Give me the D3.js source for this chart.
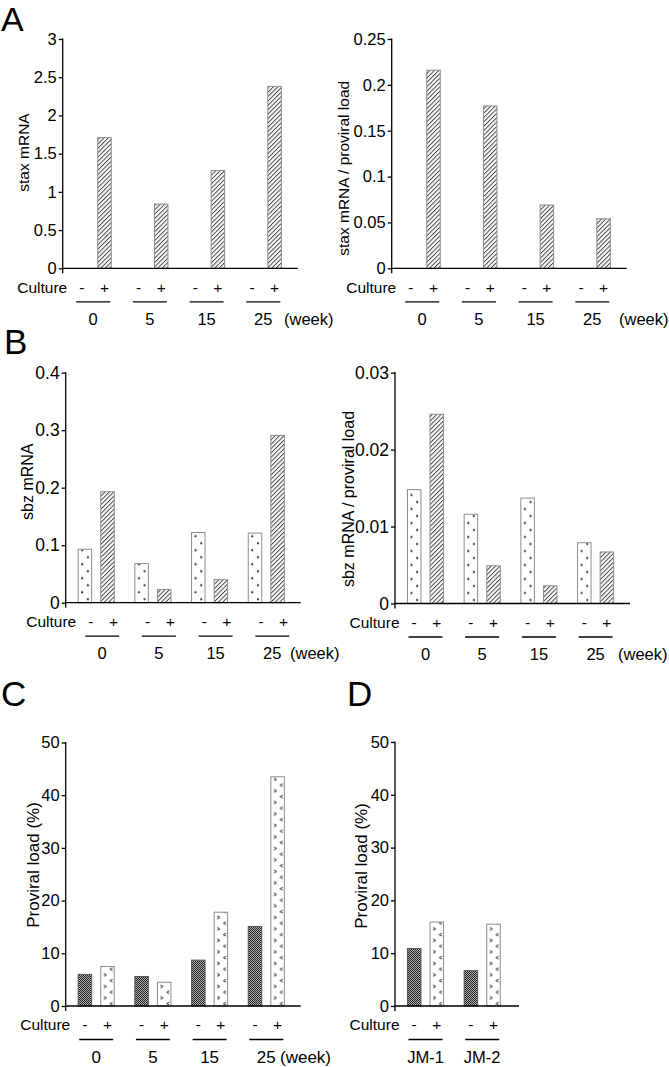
<!DOCTYPE html>
<html><head><meta charset="utf-8">
<script src="https://cdn.jsdelivr.net/npm/d3@7"></script>
<style>
body{margin:0;background:#fff}
svg{display:block}
text{font-family:"Liberation Sans",Arial,Helvetica,sans-serif;fill:#000}
</style>
</head><body>
<svg id="c" width="669" height="1067"></svg>
<script>
// ---------- data ----------
const weeks = ["0", "5", "15", "25"];
const culture = ["-", "+"];
const cellLines = ["JM-1", "JM-2"];
const staxPlus = [1.71, 0.84, 1.28, 2.38];
const staxRatioPlus = [0.216, 0.177, 0.069, 0.054];
const sbzMinus = [0.093, 0.068, 0.122, 0.121];
const sbzPlus = [0.193, 0.023, 0.040, 0.291];
const sbzRatioMinus = [0.0148, 0.0116, 0.0137, 0.0079];
const sbzRatioPlus = [0.0246, 0.0049, 0.0023, 0.0067];
const pvlMinus = [6.0, 5.6, 8.7, 15.1];
const pvlPlus = [7.5, 4.5, 17.8, 43.5];
const jmMinus = [10.9, 6.7];
const jmPlus = [15.9, 15.5];
const ticksStax = [0, 0.5, 1, 1.5, 2, 2.5, 3];
const ticksStaxRatio = [0, 0.05, 0.1, 0.15, 0.2, 0.25];
const ticksSbz = [0, 0.1, 0.2, 0.3, 0.4];
const ticksSbzRatio = [0, 0.01, 0.02, 0.03];
const ticksPvl = [0, 10, 20, 30, 40, 50];

// ---------- drawing ----------
const svg = d3.select("#c");
const defs = svg.append("defs");
const FONT = '"Liberation Sans",Arial,Helvetica,sans-serif';

// hatch pattern
const hp = defs.append("pattern").attr("id", "hatch").attr("patternUnits", "userSpaceOnUse")
  .attr("width", 3.1).attr("height", 3.1).attr("patternTransform", "rotate(45)");
hp.append("rect").attr("width", 3.1).attr("height", 3.1).attr("fill", "#fafafa");
hp.append("line").attr("x1", 0.5).attr("y1", 0).attr("x2", 0.5).attr("y2", 3.1)
  .attr("stroke", "#222").attr("stroke-width", 0.8);

// checker pattern
const cp = defs.append("pattern").attr("id", "checker").attr("patternUnits", "userSpaceOnUse")
  .attr("width", 2).attr("height", 2);
cp.append("rect").attr("width", 2).attr("height", 2).attr("fill", "#b0b0b0");
cp.append("rect").attr("x", 0).attr("y", 0).attr("width", 1).attr("height", 1).attr("fill", "#222");
cp.append("rect").attr("x", 1).attr("y", 1).attr("width", 1).attr("height", 1).attr("fill", "#222");

let pid = 0;
function dotFill(bx, bw, y0) {
  const id = "dot" + (pid++);
  const p = defs.append("pattern").attr("id", id).attr("patternUnits", "userSpaceOnUse")
    .attr("x", bx).attr("y", y0).attr("width", bw).attr("height", 14);
  p.append("rect").attr("width", bw).attr("height", 14).attr("fill", "#fff");
  p.append("circle").attr("cx", bw * 0.3).attr("cy", 3.5).attr("r", 1.05).attr("fill", "#000");
  p.append("circle").attr("cx", bw * 0.72).attr("cy", 10.5).attr("r", 1.05).attr("fill", "#000");
  return `url(#${id})`;
}
function chevFill(bx, bw, y0) {
  const id = "chev" + (pid++);
  const h = 11.5;
  const p = defs.append("pattern").attr("id", id).attr("patternUnits", "userSpaceOnUse")
    .attr("x", bx).attr("y", y0).attr("width", bw).attr("height", h);
  p.append("rect").attr("width", bw).attr("height", h).attr("fill", "#fff");
  const a = bw * 0.33, b = bw * 0.78;
  p.append("path").attr("d", `M${a - 1.4},${2} L${a + 1.3},${3.4} L${a - 1.4},${4.8}`)
    .attr("fill", "none").attr("stroke", "#111").attr("stroke-width", 0.9);
  p.append("path").attr("d", `M${b + 1.4},${7.8} L${b - 1.3},${9.2} L${b + 1.4},${10.6}`)
    .attr("fill", "none").attr("stroke", "#111").attr("stroke-width", 0.9);
  return `url(#${id})`;
}

function panel(cfg) {
  const g = svg.append("g");
  const y = d3.scaleLinear().domain([0, cfg.max]).range([cfg.y0, cfg.yTop]);
  const step = 56.7;
  const first = cfg.ax + 30.5;
  const x = d3.scalePoint().domain(cfg.groups).range([first, first + step * (cfg.groups.length - 1)]);
  const xi = d3.scalePoint().domain(culture).range([-11.3, 11.3]);
  const bw = 13.5;

  cfg.series.forEach(s => {
    s.values.forEach((v, i) => {
      const cx = x(cfg.groups[i]) + xi(s.cult);
      const bx = cx - bw / 2, top = y(v);
      let fill;
      if (s.style === "hatch") fill = "url(#hatch)";
      else if (s.style === "checker") fill = "url(#checker)";
      else if (s.style === "dots") fill = dotFill(bx, bw, cfg.y0);
      else fill = chevFill(bx, bw, cfg.y0);
      g.append("rect").attr("x", bx).attr("y", top).attr("width", bw).attr("height", y(0) - top)
        .attr("fill", fill).attr("stroke", s.style === "checker" ? "#555" : "#8c8c8c").attr("stroke-width", 1);
    });
  });

  // y axis
  const ya = g.append("g").attr("transform", `translate(${cfg.ax},0)`)
    .call(d3.axisLeft(y).tickValues(cfg.ticks).tickSize(4).tickPadding(2).tickFormat(d => String(d)));
  ya.select(".domain").remove();
  ya.attr("font-family", FONT).attr("font-size", cfg.tickFs);
  ya.selectAll(".tick line").attr("stroke", "#000").attr("stroke-width", 1.3);
  ya.selectAll(".tick text").attr("fill", "#000");
  g.append("line").attr("x1", cfg.ax).attr("x2", cfg.ax).attr("y1", cfg.yTop - 0.6).attr("y2", cfg.y0 + 5)
    .attr("stroke", "#000").attr("stroke-width", 1.3);
  g.append("line").attr("x1", cfg.ax).attr("x2", cfg.ax + cfg.xlen).attr("y1", cfg.y0).attr("y2", cfg.y0)
    .attr("stroke", "#000").attr("stroke-width", 1.3);

  // axis title
  g.append("text").attr("transform", `translate(${cfg.tx},${cfg.ty}) rotate(-90)`)
    .attr("text-anchor", "middle").attr("dy", "0.35em").attr("font-size", cfg.titleFs).text(cfg.title);

  // culture row
  const dx = cfg.dx;
  g.append("text").attr("x", cfg.ax + 4.5 + dx).attr("y", cfg.y0 + 19).attr("dy", "0.35em")
    .attr("text-anchor", "end").attr("font-size", 15.5).text("Culture");
  cfg.groups.forEach(gr => {
    culture.forEach(c => {
      g.append("text").attr("x", x(gr) + xi(c) + dx).attr("y", cfg.y0 + 19).attr("dy", "0.35em")
        .attr("text-anchor", "middle").attr("font-size", 15.5).text(c);
    });
    g.append("line").attr("x1", x(gr) - 17 + dx).attr("x2", x(gr) + 17 + dx)
      .attr("y1", cfg.y0 + 33.5).attr("y2", cfg.y0 + 33.5).attr("stroke", "#000").attr("stroke-width", 1.3);
    g.append("text").attr("x", x(gr) + dx).attr("y", cfg.y0 + 51).attr("dy", "0.35em")
      .attr("text-anchor", "middle").attr("font-size", cfg.groupFs).text(gr);
  });
  if (cfg.weekX != null) {
    g.append("text").attr("x", cfg.weekX).attr("y", cfg.y0 + 51).attr("dy", "0.35em")
      .attr("font-size", cfg.groupFs).text("(week)");
  }
}

panel({ax: 62.7, y0: 268.3, yTop: 39, max: 3, ticks: ticksStax, xlen: 235, dx: 0, groups: weeks,
  series: [{cult: "+", values: staxPlus, style: "hatch"}],
  title: "stax mRNA", tx: 24, ty: 152.5, titleFs: 15.5, tickFs: 16.5, groupFs: 16.5, weekX: 284});
panel({ax: 391.7, y0: 268.3, yTop: 39, max: 0.25, ticks: ticksStaxRatio, xlen: 235, dx: 0, groups: weeks,
  series: [{cult: "+", values: staxRatioPlus, style: "hatch"}],
  title: "stax mRNA / proviral load", tx: 343.3, ty: 168.3, titleFs: 15.5, tickFs: 16.5, groupFs: 16.5, weekX: 619});
panel({ax: 65.7, y0: 602.7, yTop: 372.7, max: 0.4, ticks: ticksSbz, xlen: 235, dx: 6, groups: weeks,
  series: [{cult: "-", values: sbzMinus, style: "dots"}, {cult: "+", values: sbzPlus, style: "hatch"}],
  title: "sbz mRNA", tx: 27, ty: 481.7, titleFs: 16, tickFs: 17.5, groupFs: 16.5, weekX: 290});
panel({ax: 395, y0: 603.5, yTop: 372.7, max: 0.03, ticks: ticksSbzRatio, xlen: 235, dx: 0, groups: weeks,
  series: [{cult: "-", values: sbzRatioMinus, style: "dots"}, {cult: "+", values: sbzRatioPlus, style: "hatch"}],
  title: "sbz mRNA / proviral load", tx: 348, ty: 499, titleFs: 16, tickFs: 17.5, groupFs: 16.5, weekX: 618});
panel({ax: 65.7, y0: 1006, yTop: 742.5, max: 50, ticks: ticksPvl, xlen: 235, dx: 0, groups: weeks,
  series: [{cult: "-", values: pvlMinus, style: "checker"}, {cult: "+", values: pvlPlus, style: "chevron"}],
  title: "Proviral load (%)", tx: 33, ty: 865, titleFs: 17, tickFs: 16.5, groupFs: 17, weekX: 280});
panel({ax: 395, y0: 1006, yTop: 742, max: 50, ticks: ticksPvl, xlen: 124, dx: 0, groups: cellLines,
  series: [{cult: "-", values: jmMinus, style: "checker"}, {cult: "+", values: jmPlus, style: "chevron"}],
  title: "Proviral load (%)", tx: 361, ty: 866, titleFs: 17, tickFs: 16.5, groupFs: 16.5, weekX: null});

// panel letters
[["A", 1, 31, 34], ["B", 4, 354, 35], ["C", 1, 706, 35], ["D", 347, 706, 35]].forEach(([t, lx, ly, fs]) => {
  svg.append("text").attr("x", lx).attr("y", ly).attr("font-size", fs).text(t);
});
</script>
</body></html>
